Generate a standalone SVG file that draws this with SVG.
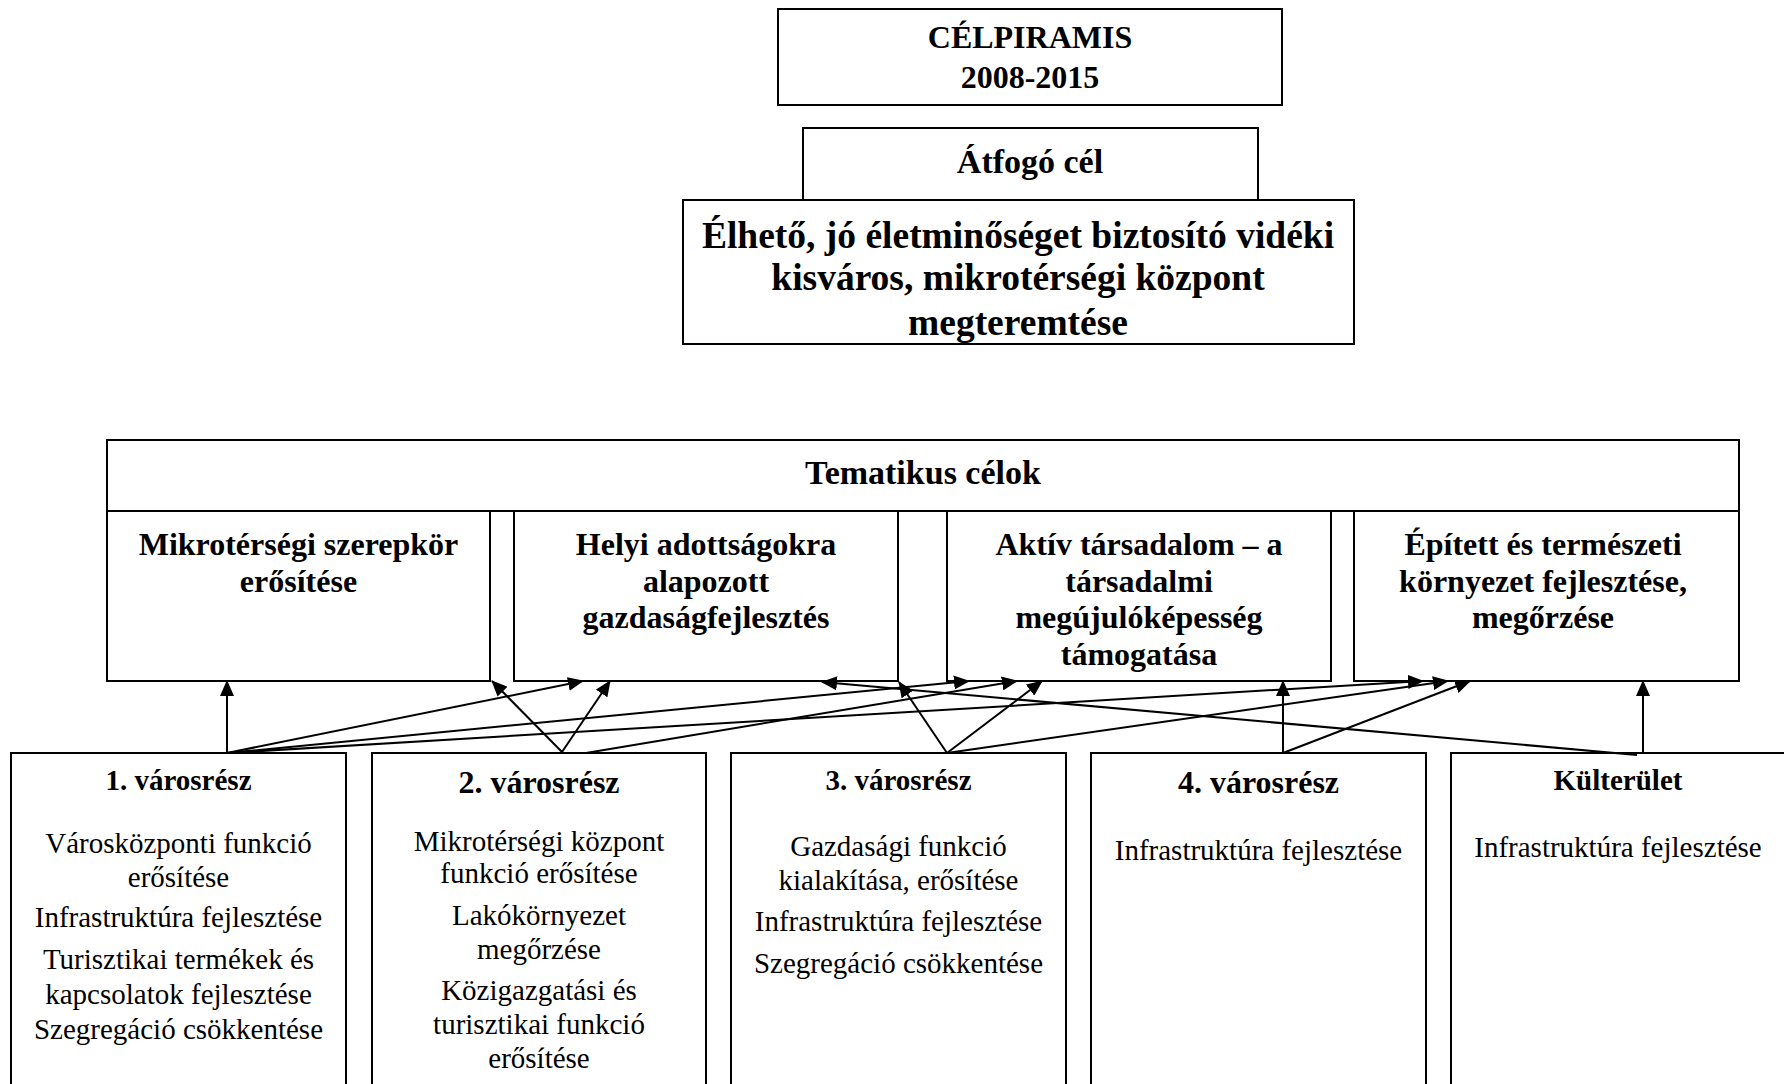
<svg xmlns="http://www.w3.org/2000/svg" width="1784" height="1084" viewBox="0 0 1784 1084">
<style>
.box{fill:#fff;stroke:#000;stroke-width:2}
.frame{fill:none;stroke:#000;stroke-width:2}
.t{font-family:"Liberation Serif","Times New Roman",serif;fill:#000;text-anchor:middle}
.b{font-weight:bold}
.f32{font-size:32px}
.f34{font-size:34px}
.f38{font-size:37.5px}
.f29{font-size:29px}
.con{stroke:#000;stroke-width:2;fill:none;marker-end:url(#ah)}
</style>
<defs>
<marker id="ah" markerUnits="userSpaceOnUse" markerWidth="16" markerHeight="14" viewBox="0 0 16 14" refX="15" refY="7" orient="auto">
<path d="M0,0 L16,7 L0,14 z" fill="#000"/>
</marker>
<clipPath id="clipGoal"><rect x="683" y="200" width="671" height="144"/></clipPath>
</defs>
<rect width="1784" height="1084" fill="#fff"/>

<g id="celpiramis">
<rect class="box" x="778" y="9" width="504" height="96"/>
<text class="t b f32" x="1030" y="48">CÉLPIRAMIS</text>
<text class="t b f32" x="1030" y="88">2008-2015</text>
</g>

<g id="atfogo">
<rect class="box" x="803" y="128" width="455" height="72"/>
<text class="t b f34" x="1030" y="173">Átfogó cél</text>
</g>

<g id="goal">
<rect class="box" x="683" y="200" width="671" height="144"/>
<g clip-path="url(#clipGoal)">
<text class="t b f38" x="1018" y="248">Élhető, jó életminőséget biztosító vidéki</text>
<text class="t b f38" x="1018" y="290">kisváros, mikrotérségi központ</text>
<text class="t b f38" x="1018" y="335">megteremtése</text>
</g>
<rect class="frame" x="683" y="200" width="671" height="144"/>
</g>

<g id="tematikus">
<rect class="box" x="107" y="440" width="1632" height="71"/>
<text class="t b f34" x="923" y="484">Tematikus célok</text>
</g>

<g id="theme1">
<rect class="box" x="107" y="511" width="383" height="170"/>
<text class="t b f32" x="298.5" y="555">Mikrotérségi szerepkör</text>
<text class="t b f32" x="298.5" y="592">erősítése</text>
</g>
<g id="theme2">
<rect class="box" x="514" y="511" width="384" height="170"/>
<text class="t b f32" x="706" y="555">Helyi adottságokra</text>
<text class="t b f32" x="706" y="592">alapozott</text>
<text class="t b f32" x="706" y="628">gazdaságfejlesztés</text>
</g>
<g id="theme3">
<rect class="box" x="947" y="511" width="384" height="170"/>
<text class="t b f32" x="1139" y="555">Aktív társadalom – a</text>
<text class="t b f32" x="1139" y="592">társadalmi</text>
<text class="t b f32" x="1139" y="628">megújulóképesség</text>
<text class="t b f32" x="1139" y="665">támogatása</text>
</g>
<g id="theme4">
<rect class="box" x="1354" y="511" width="385" height="170"/>
<text class="t b f32" x="1543" y="555">Épített és természeti</text>
<text class="t b f32" x="1543" y="592">környezet fejlesztése,</text>
<text class="t b f32" x="1543" y="628">megőrzése</text>
</g>

<g id="district1">
<rect class="box" x="11" y="753" width="335" height="360"/>
<text class="t b f29" x="178.5" y="790">1. városrész</text>
<text class="t f29" x="178.5" y="853">Városközponti funkció</text>
<text class="t f29" x="178.5" y="887">erősítése</text>
<text class="t f29" x="178.5" y="927">Infrastruktúra fejlesztése</text>
<text class="t f29" x="178.5" y="969">Turisztikai termékek és</text>
<text class="t f29" x="178.5" y="1004">kapcsolatok fejlesztése</text>
<text class="t f29" x="178.5" y="1039">Szegregáció csökkentése</text>
</g>
<g id="district2">
<rect class="box" x="372" y="753" width="334" height="360"/>
<text class="t b f32" x="539" y="793">2. városrész</text>
<text class="t f29" x="539" y="851">Mikrotérségi központ</text>
<text class="t f29" x="539" y="883">funkció erősítése</text>
<text class="t f29" x="539" y="925">Lakókörnyezet</text>
<text class="t f29" x="539" y="959">megőrzése</text>
<text class="t f29" x="539" y="1000">Közigazgatási és</text>
<text class="t f29" x="539" y="1034">turisztikai funkció</text>
<text class="t f29" x="539" y="1068">erősítése</text>
</g>
<g id="district3">
<rect class="box" x="731" y="753" width="335" height="360"/>
<text class="t b f29" x="898.5" y="790">3. városrész</text>
<text class="t f29" x="898.5" y="856">Gazdasági funkció</text>
<text class="t f29" x="898.5" y="890">kialakítása, erősítése</text>
<text class="t f29" x="898.5" y="931">Infrastruktúra fejlesztése</text>
<text class="t f29" x="898.5" y="973">Szegregáció csökkentése</text>
</g>
<g id="district4">
<rect class="box" x="1091" y="753" width="335" height="360"/>
<text class="t b f32" x="1258.5" y="793">4. városrész</text>
<text class="t f29" x="1258.5" y="860">Infrastruktúra fejlesztése</text>
</g>
<g id="kulterulet">
<rect class="box" x="1451" y="753" width="360" height="360"/>
<text class="t b f29" x="1618" y="790">Külterület</text>
<text class="t f29" x="1618" y="857">Infrastruktúra fejlesztése</text>
</g>

<g id="connectors">
<line class="con" x1="227" y1="753" x2="227" y2="681"/>
<line class="con" x1="227" y1="753" x2="583" y2="681"/>
<line class="con" x1="227" y1="753" x2="969" y2="681"/>
<line class="con" x1="227" y1="753" x2="1423" y2="681"/>
<line class="con" x1="562" y1="752" x2="492" y2="681"/>
<line class="con" x1="562" y1="752" x2="610" y2="681"/>
<line class="con" x1="586" y1="753" x2="1017" y2="681"/>
<line class="con" x1="947" y1="753" x2="899" y2="682"/>
<line class="con" x1="947" y1="753" x2="1042" y2="681"/>
<line class="con" x1="947" y1="753" x2="1448" y2="681"/>
<line class="con" x1="1283" y1="753" x2="1283" y2="681"/>
<line class="con" x1="1283" y1="753" x2="1470" y2="681"/>
<line class="con" x1="1643" y1="753" x2="1643" y2="681"/>
<line class="con" x1="1637" y1="755" x2="822" y2="682"/>
</g>
</svg>
